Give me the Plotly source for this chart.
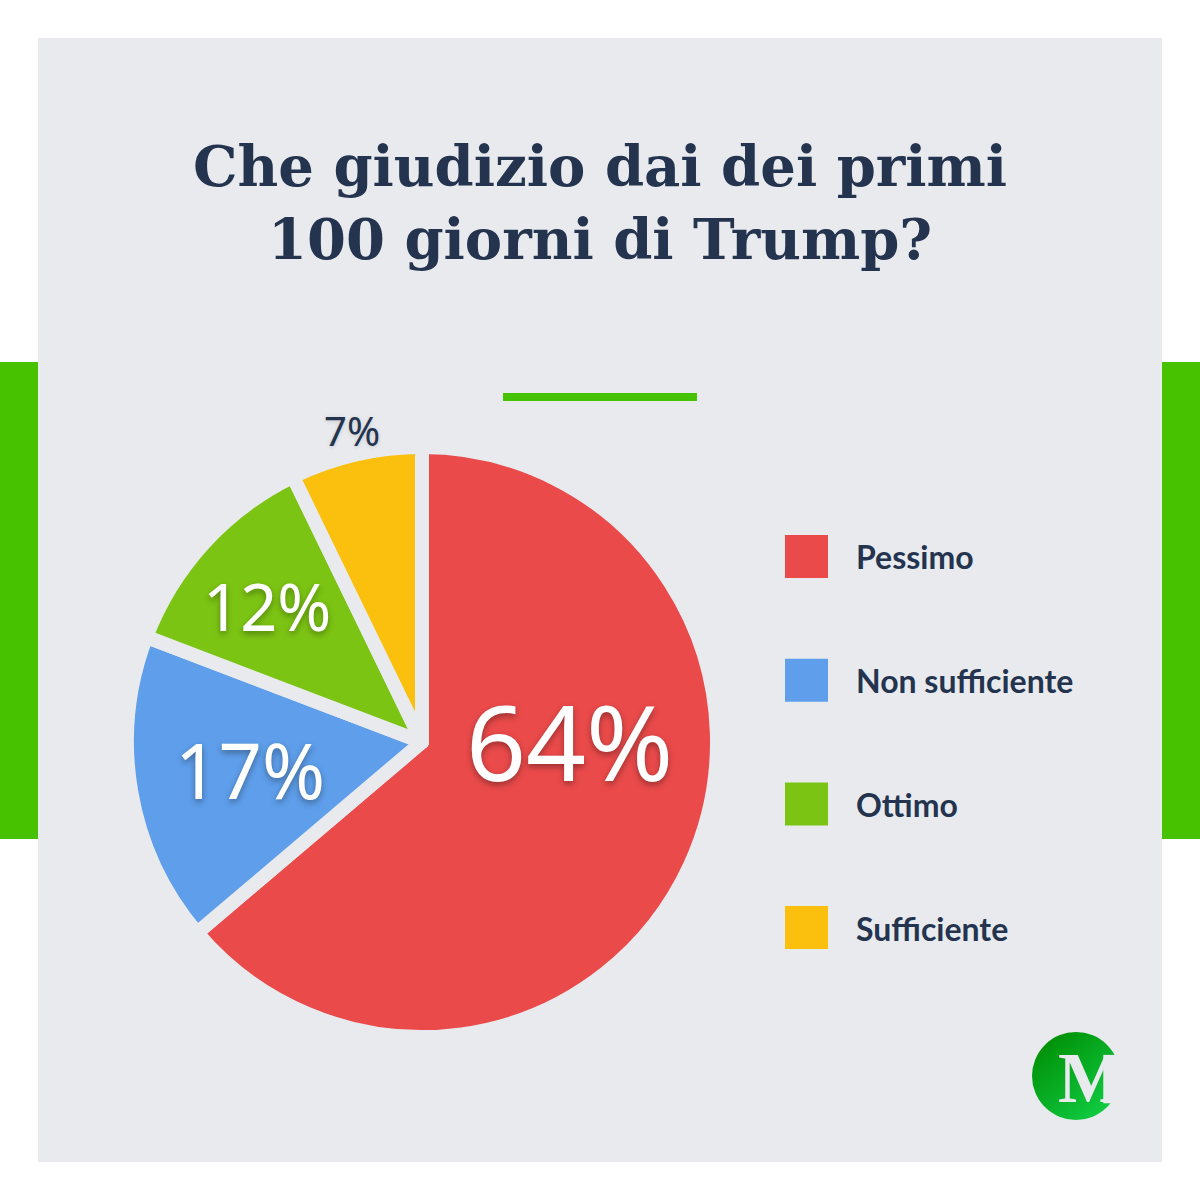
import base64
import plotly.graph_objects as go

# values (slice angles, the labels round them)
labels = ["Pessimo", "Non sufficiente", "Ottimo", "Sufficiente"]
values = [63.8, 17.0, 12.0, 7.2]
slice_colors = ["#EA4A4A", "#5E9EEA", "#7CC414", "#FBBF0D"]

BG = "#E8EAEE"
GREEN = "#46C200"
NAVY = "#24344F"
TITLE = "Che giudizio dai dei primi<br>100 giorni di Trump?"

W = 1200

# where each percent label sits, and its size and colour
label_pos = [(569, 740), (250, 769), (267, 606), (352, 431)]
label_sizes = [105, 76, 65, 40]
label_colors = ["white", "white", "white", NAVY]
label_shadows = ["0px 3px 6px rgba(0,0,0,0.35)"] * 3 + ["0px 1px 4px rgba(0,0,0,0.15)"]


def px_x(v):
    return v / W


def px_y(v):
    return 1 - v / W


def rect(x0, y0, x1, y1, color):
    return dict(type="rect", xref="paper", yref="paper", layer="below",
                x0=px_x(x0), x1=px_x(x1), y0=px_y(y0), y1=px_y(y1),
                fillcolor=color, line=dict(width=0))


def text(x, y, s, xanchor="center", **kw):
    return dict(x=px_x(x), y=px_y(y), xref="paper", yref="paper",
                xanchor=xanchor, yanchor="middle",
                text=s, showarrow=False, **kw)


# logo disc has a gradient, plotly shapes don't do that
logo_svg = (
    '<svg xmlns="http://www.w3.org/2000/svg" width="100" height="100">'
    '<defs><linearGradient id="g" x1="0.1" y1="0.1" x2="0.8" y2="0.95">'
    '<stop offset="0" stop-color="#008F06"/><stop offset="1" stop-color="#10CC42"/>'
    '</linearGradient></defs>'
    '<circle cx="50" cy="50" r="50" fill="url(#g)"/>'
    f'<rect x="81" y="26" width="19" height="55" fill="{BG}"/></svg>'
)
logo_uri = "data:image/svg+xml;base64," + base64.b64encode(logo_svg.encode()).decode()

fig = go.Figure(go.Pie(
    labels=labels,
    values=values,
    sort=False,
    direction="clockwise",
    rotation=0,
    marker=dict(colors=slice_colors, line=dict(color=BG, width=14)),
    textinfo="none",
    hoverinfo="label+percent",
    showlegend=False,
    domain=dict(x=[px_x(127), px_x(717)], y=[px_y(1037), px_y(447)]),
))

shapes = [
    rect(0, 362, 38, 839, GREEN),
    rect(1162, 362, 1200, 839, GREEN),
    rect(38, 38, 1162, 1162, BG),
    rect(503, 393, 697, 401, GREEN),
]
# legend swatches, one per slice
for i, col in enumerate(slice_colors):
    y0 = 535 + i * 123.7
    shapes.append(rect(785, y0, 828, y0 + 43, col))

annotations = [
    text(600, 202, f"<b>{TITLE}</b>", align="center",
         font=dict(family="DejaVu Serif", size=56, color=NAVY)),
    text(1092, 1078, "<b>M</b>", font=dict(family="Liberation Serif", size=72, color=BG)),
]
for i, lab in enumerate(labels):
    annotations.append(text(854, 557 + i * 123.7, f"<b>{lab}</b>", xanchor="left",
                            font=dict(family="Lato", size=32, color=NAVY)))
for v, pos, size, col, sh in zip(values, label_pos, label_sizes, label_colors, label_shadows):
    annotations.append(text(pos[0], pos[1], f"{round(v)}%",
                            font=dict(family="Noto Sans", size=size, color=col, shadow=sh)))

fig.update_layout(
    width=W, height=W,
    margin=dict(l=0, r=0, t=0, b=0),
    paper_bgcolor="white",
    shapes=shapes,
    annotations=annotations,
    images=[dict(source=logo_uri, xref="paper", yref="paper", layer="above",
                 x=px_x(1032), y=px_y(1032), sizex=88 / W, sizey=88 / W,
                 xanchor="left", yanchor="top")],
)

fig.write_html("out.html", config=dict(displayModeBar=False),
               post_script="document.body.style.margin='0';")
